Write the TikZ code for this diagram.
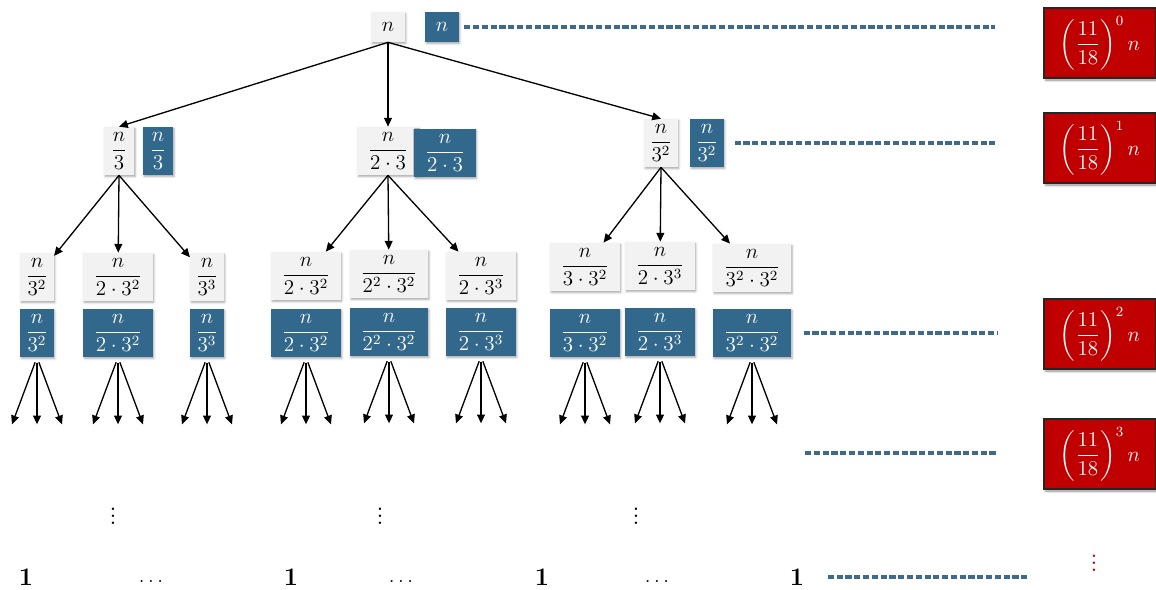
\documentclass[tikz,border=0pt]{standalone}
\usepackage{amsmath}
\usepackage{tikz}
\usetikzlibrary{arrows.meta, shadows.blur}
\definecolor{treeblue}{RGB}{49, 104, 140}
\definecolor{dashblue}{RGB}{62, 106, 140}
\definecolor{sumred}{RGB}{192, 0, 0}
\definecolor{boxgray}{RGB}{242, 242, 242}
\tikzset{
    subproblem/.style={rectangle, fill=boxgray, minimum width=0.6cm, minimum height=0.96cm, inner xsep=6pt, inner ysep=2pt, font=\large, blur shadow={shadow xshift=0.6pt, shadow yshift=-0.9pt, shadow blur radius=1.2pt, shadow opacity=35}},
    cost/.style={subproblem, fill=treeblue, text=white},
    narrow/.style={inner xsep=3pt},
    levelsum/.style={rectangle, draw=black!85, line width=0.8pt, fill=sumred, text=white, minimum width=2.24cm, minimum height=1.4cm, font=\large, blur shadow={shadow xshift=1pt, shadow yshift=-1.2pt, shadow blur radius=1.5pt, shadow opacity=45}},
    arrow/.style={line width=0.75pt, -{Triangle[length=5pt,width=4.5pt]}},
    levelline/.style={dashblue, line width=1.8pt, dash pattern=on 3.5pt off 1.5pt},
    leaf/.style={font=\Large}
}

\begin{document}
\begin{tikzpicture}[x=0.02cm, y=-0.02cm]
    \useasboundingbox (0,0) rectangle (1156,590);

    % Root
    \node[subproblem, minimum height=0.6cm] (n0) at (388, 27) {$n$};
    \node[cost, minimum height=0.6cm] (c0) at (442, 27) {$n$};

    % Level 1
    \node[subproblem, narrow] (n1) at (119, 151) {$\dfrac{n}{3}$};
    \node[cost, narrow] (c1) at (158, 151) {$\dfrac{n}{3}$};
    \node[subproblem] (n2) at (388, 151) {$\dfrac{n}{2\cdot 3}$};
    \node[cost] (c2) at (445, 153) {$\dfrac{n}{2\cdot 3}$};
    \node[subproblem, narrow] (n3) at (661, 143) {$\dfrac{n}{3^2}$};
    \node[cost, narrow] (c3) at (707, 143) {$\dfrac{n}{3^2}$};

    % Level 2
    \node[subproblem, narrow] (n11) at (37, 277) {$\dfrac{n}{3^2}$};
    \node[cost, narrow] (c11) at (37, 333) {$\dfrac{n}{3^2}$};
    \node[subproblem] (n12) at (118, 277) {$\dfrac{n}{2\cdot 3^2}$};
    \node[cost] (c12) at (118, 333) {$\dfrac{n}{2\cdot 3^2}$};
    \node[subproblem, narrow] (n13) at (207, 277) {$\dfrac{n}{3^3}$};
    \node[cost, narrow] (c13) at (207, 333) {$\dfrac{n}{3^3}$};

    \node[subproblem] (n21) at (306, 276) {$\dfrac{n}{2\cdot 3^2}$};
    \node[cost] (c21) at (306, 333) {$\dfrac{n}{2\cdot 3^2}$};
    \node[subproblem] (n22) at (389, 274) {$\dfrac{n}{2^2\cdot 3^2}$};
    \node[cost] (c22) at (389, 332) {$\dfrac{n}{2^2\cdot 3^2}$};
    \node[subproblem] (n23) at (481, 276) {$\dfrac{n}{2\cdot 3^3}$};
    \node[cost] (c23) at (481, 332) {$\dfrac{n}{2\cdot 3^3}$};

    \node[subproblem] (n31) at (585, 267) {$\dfrac{n}{3\cdot 3^2}$};
    \node[cost] (c31) at (585, 333) {$\dfrac{n}{3\cdot 3^2}$};
    \node[subproblem] (n32) at (660, 266) {$\dfrac{n}{2\cdot 3^3}$};
    \node[cost] (c32) at (660, 332) {$\dfrac{n}{2\cdot 3^3}$};
    \node[subproblem] (n33) at (752, 268) {$\dfrac{n}{3^2\cdot 3^2}$};
    \node[cost] (c33) at (752, 333) {$\dfrac{n}{3^2\cdot 3^2}$};

    % Tree edges
    \foreach \k in {n1, n2, n3}
        \draw[arrow] (n0.south) -- (\k.north);
    \foreach \p/\k in {n1/n11, n1/n12, n1/n13,
                       n2/n21, n2/n22, n2/n23,
                       n3/n31, n3/n32, n3/n33}
        \draw[arrow] (\p.south) -- (\k);

    % Level 3 fans
    \foreach \c in {c11, c12, c13, c21, c22, c23, c31, c32, c33}
        \foreach \d/\k in {-25/l, 0/m, 25/r}
            \draw[arrow, shorten <=3pt] (\c.south) -- ++(\d, 67) coordinate (\c\k);

    % Dots and leaves
    \node[font=\Large] (dots1) at (113, 511) {$\vdots$};
    \node[font=\Large] (dots2) at (380, 511) {$\vdots$};
    \node[font=\Large] (dots3) at (636, 511) {$\vdots$};
    \node[leaf] (one1) at (26, 577) {$\mathbf{1}$};
    \node[leaf] (one2) at (291, 577) {$\mathbf{1}$};
    \node[leaf] (one3) at (542, 577) {$\mathbf{1}$};
    \node[leaf] (one4) at (797, 577) {$\mathbf{1}$};
    \node[font=\large] (gap1) at (151, 581) {$\ldots$};
    \node[font=\large] (gap2) at (401, 581) {$\ldots$};
    \node[font=\large] (gap3) at (657, 581) {$\ldots$};

    % Level sums
    \node[levelsum] (sum0) at (1100, 43) {$\left(\dfrac{11}{18}\right)^{0} n$};
    \node[levelsum] (sum1) at (1100, 148) {$\left(\dfrac{11}{18}\right)^{1} n$};
    \node[levelsum] (sum2) at (1100, 334) {$\left(\dfrac{11}{18}\right)^{2} n$};
    \node[levelsum] (sum3) at (1100, 454) {$\left(\dfrac{11}{18}\right)^{3} n$};
    \node[font=\Large, text=sumred] (more) at (1094, 558) {$\vdots$};

    % Level lines
    \coordinate (e0) at (995, 27);
    \coordinate (e1) at (995, 143);
    \coordinate (e2) at (997, 333);
    \coordinate (s3) at (805, 453);
    \coordinate (e3) at (997, 453);
    \coordinate (e4) at (1027, 577);
    \draw[levelline, shorten <=3pt] (c0) -- (e0);
    \draw[levelline, shorten <=6pt] (c3) -- (e1);
    \draw[levelline, shorten <=7pt] (c33) -- (e2);
    \draw[levelline] (s3) -- (e3);
    \draw[levelline, shorten <=10pt] (one4) -- (e4);
\end{tikzpicture}
\end{document}
